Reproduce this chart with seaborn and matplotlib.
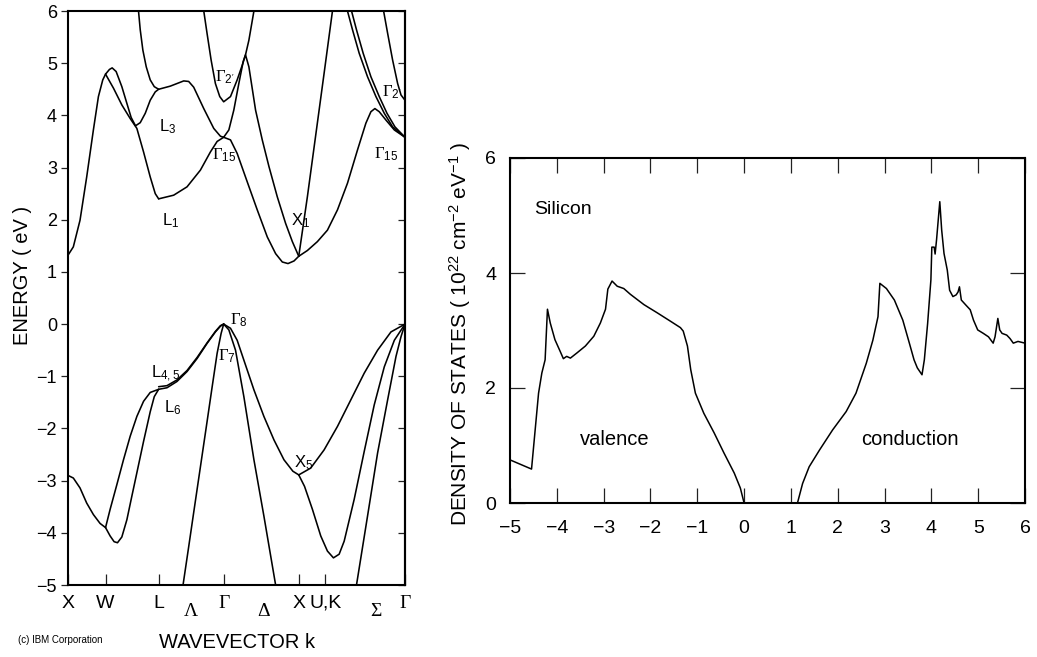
import numpy as np
import pandas as pd
import matplotlib
matplotlib.use("Agg")
import matplotlib.pyplot as plt
import seaborn as sns

# ---------------- data: band structure (k along X-W-L-G-X-U,K-G, E in eV) ----------------
k_ticks = [0.0, 0.5, 1.207, 2.073, 3.073, 3.427, 4.488]
k_labels = ["X", "W", "L", "Γ", "X", "U,K", "Γ"]
greek_pos = [1.63, 2.61, 4.10]
greek_labels = ["Λ", "Δ", "Σ"]

# conduction bands
cb_XW_k = [0.0, 0.071, 0.160, 0.249, 0.338, 0.405, 0.463, 0.500]
cb_XW_e = [1.32, 1.48, 1.99, 2.82, 3.72, 4.36, 4.68, 4.79]
cb_WL1_k = [0.500, 0.606, 0.717, 0.828, 0.917, 1.006, 1.095, 1.162, 1.207]
cb_WL1_e = [4.79, 4.52, 4.20, 3.94, 3.75, 3.30, 2.82, 2.50, 2.40]
cb_WL3_k = [0.500, 0.552, 0.588, 0.641, 0.717, 0.784, 0.841, 0.899, 0.962, 1.029, 1.095, 1.162, 1.207]
cb_WL3_e = [4.79, 4.88, 4.91, 4.84, 4.55, 4.23, 3.96, 3.80, 3.86, 4.04, 4.29, 4.45, 4.50]
cb_topL_k = [0.939, 0.962, 0.997, 1.042, 1.095, 1.149, 1.207]
cb_topL_e = [6.0, 5.64, 5.25, 4.93, 4.68, 4.55, 4.50]
cb_LG3_k = [1.207, 1.362, 1.541, 1.607, 1.674, 1.808, 1.941, 2.030, 2.073]
cb_LG3_e = [4.50, 4.56, 4.66, 4.65, 4.54, 4.13, 3.75, 3.60, 3.58]
cb_LG1_k = [1.207, 1.407, 1.585, 1.763, 1.897, 1.986, 2.073]
cb_LG1_e = [2.40, 2.47, 2.63, 2.95, 3.30, 3.50, 3.58]
cb_G2_k = [1.808, 1.852, 1.906, 1.963, 2.021, 2.073, 2.164, 2.253, 2.320, 2.364, 2.409, 2.476]
cb_G2_e = [6.0, 5.57, 5.06, 4.61, 4.36, 4.26, 4.36, 4.68, 4.96, 5.16, 5.44, 6.0]
cb_GXu_k = [2.073, 2.142, 2.208, 2.275, 2.333, 2.364, 2.409, 2.498, 2.587, 2.676, 2.787, 2.898, 2.988, 3.073]
cb_GXu_e = [3.58, 3.72, 4.10, 4.61, 5.03, 5.16, 4.93, 4.10, 3.53, 3.02, 2.44, 1.93, 1.58, 1.30]
cb_GXl_k = [2.073, 2.164, 2.253, 2.386, 2.520, 2.654, 2.765, 2.854, 2.930, 3.010, 3.073]
cb_GXl_e = [3.58, 3.53, 3.27, 2.73, 2.19, 1.67, 1.35, 1.19, 1.16, 1.21, 1.30]
cb_XUs_k = [3.073, 3.188, 3.299, 3.411, 3.522]
cb_XUs_e = [1.30, 2.44, 3.62, 4.81, 6.0]
cb_XG_k = [3.073, 3.188, 3.321, 3.455, 3.589, 3.722, 3.856, 3.967, 4.034, 4.087, 4.145, 4.234, 4.346, 4.488]
cb_XG_e = [1.30, 1.41, 1.58, 1.80, 2.19, 2.70, 3.34, 3.85, 4.07, 4.13, 4.07, 3.91, 3.72, 3.58]
cb_KGa_k = [3.722, 3.789, 3.878, 3.989, 4.101, 4.212, 4.323, 4.488]
cb_KGa_e = [6.0, 5.64, 5.19, 4.74, 4.36, 4.04, 3.78, 3.58]
cb_KGb_k = [3.776, 3.842, 3.931, 4.034, 4.145, 4.248, 4.354, 4.488]
cb_KGb_e = [6.0, 5.64, 5.19, 4.74, 4.36, 4.04, 3.78, 3.58]
cb_G2R_k = [4.203, 4.257, 4.323, 4.390, 4.435, 4.488]
cb_G2R_e = [6.0, 5.57, 5.06, 4.61, 4.39, 4.29]

# valence bands
vb_XW_k = [0.0, 0.071, 0.160, 0.249, 0.338, 0.427, 0.500]
vb_XW_e = [-2.90, -2.95, -3.14, -3.43, -3.65, -3.82, -3.90]
vb_WLa_k = [0.500, 0.561, 0.650, 0.739, 0.828, 0.917, 1.006, 1.095, 1.207]
vb_WLa_e = [-3.90, -3.55, -3.08, -2.60, -2.15, -1.77, -1.48, -1.31, -1.25]
vb_WLb_k = [0.500, 0.561, 0.614, 0.659, 0.717, 0.784, 0.850, 0.917, 1.006, 1.095, 1.149, 1.207]
vb_WLb_e = [-3.90, -4.06, -4.17, -4.19, -4.08, -3.75, -3.30, -2.85, -2.25, -1.68, -1.39, -1.25]
vb_LG_k = [1.207, 1.318, 1.451, 1.585, 1.719, 1.852, 1.963, 2.030, 2.073]
vb_LG6_e = [-1.25, -1.22, -1.10, -0.91, -0.66, -0.37, -0.15, -0.04, 0.0]
vb_LG45_e = [-1.20, -1.18, -1.07, -0.89, -0.64, -0.36, -0.14, -0.03, 0.0]
vb_GLs_k = [2.073, 2.039, 1.986, 1.919, 1.852, 1.763, 1.674, 1.607, 1.532]
vb_GLs_e = [0.0, -0.18, -0.56, -1.21, -1.87, -2.74, -3.61, -4.27, -5.0]
vb_GX_k = [2.073, 2.164, 2.253, 2.342, 2.476, 2.609, 2.743, 2.876, 2.995, 3.073]
vb_GX_e = [0.0, -0.08, -0.31, -0.69, -1.26, -1.77, -2.22, -2.60, -2.82, -2.89]
vb_GXs_k = [2.073, 2.142, 2.231, 2.342, 2.476, 2.609, 2.765]
vb_GXs_e = [0.0, -0.11, -0.50, -1.39, -2.60, -3.68, -5.0]
vb_XGu_k = [3.073, 3.232, 3.411, 3.589, 3.767, 3.945, 4.123, 4.301, 4.488]
vb_XGu_e = [-2.89, -2.76, -2.41, -1.96, -1.45, -0.94, -0.50, -0.15, 0.0]
vb_XGl_k = [3.073, 3.150, 3.255, 3.366, 3.455, 3.535, 3.611, 3.678, 3.811, 3.945, 4.078, 4.212, 4.346, 4.488]
vb_XGl_e = [-2.89, -3.11, -3.55, -4.06, -4.35, -4.48, -4.41, -4.16, -3.36, -2.44, -1.55, -0.82, -0.31, 0.0]
vb_KGs_k = [3.842, 3.989, 4.123, 4.257, 4.368, 4.435, 4.488]
vb_KGs_e = [-5.0, -3.68, -2.47, -1.45, -0.62, -0.24, 0.0]

# point labels (text, k, E)
pt_text = ["L$_3$", "L$_1$", "Γ$_{2'}$", "Γ$_{15}$", "X$_1$", "Γ$_{2'}$", "Γ$_{15}$",
           "Γ$_8$", "Γ$_7$", "L$_{4,5}$", "L$_6$", "X$_5$"]
pt_k = [1.326, 1.362, 2.084, 2.075, 3.099, 4.310, 4.243, 2.280, 2.114, 1.296, 1.393, 3.135]
pt_e = [3.79, 1.99, 4.73, 3.24, 1.99, 4.45, 3.26, 0.08, -0.61, -0.96, -1.60, -2.65]

# ---------------- data: density of states ----------------
dos_val_E = [-5.0, -4.54, -4.39, -4.32, -4.25, -4.20, -4.14, -4.04, -3.93, -3.86, -3.79, -3.71,
             -3.57, -3.39, -3.21, -3.07, -2.96, -2.91, -2.82, -2.71, -2.57, -2.43, -2.14, -1.86,
             -1.57, -1.36, -1.30, -1.21, -1.14, -1.04, -0.86, -0.64, -0.43, -0.21, -0.08, 0.0]
dos_val_D = [0.75, 0.59, 1.91, 2.26, 2.49, 3.37, 3.13, 2.84, 2.64, 2.51, 2.55, 2.52,
             2.61, 2.73, 2.90, 3.13, 3.37, 3.72, 3.86, 3.77, 3.73, 3.63, 3.45, 3.31,
             3.16, 3.05, 2.99, 2.73, 2.32, 1.91, 1.56, 1.22, 0.87, 0.52, 0.26, 0.0]
dos_con_E = [1.14, 1.25, 1.39, 1.61, 1.89, 2.18, 2.39, 2.61, 2.75, 2.86, 2.90, 3.04, 3.21, 3.39,
             3.53, 3.63, 3.70, 3.80, 3.85, 3.92, 3.99, 4.01, 4.06, 4.08, 4.11, 4.18, 4.22, 4.27,
             4.34, 4.39, 4.46, 4.53, 4.57, 4.60, 4.64, 4.74, 4.83, 4.90, 4.99, 5.11, 5.22, 5.32,
             5.36, 5.42, 5.46, 5.51, 5.61, 5.68, 5.75, 5.85, 6.0]
dos_con_D = [0.0, 0.34, 0.63, 0.92, 1.27, 1.59, 1.91, 2.43, 2.83, 3.24, 3.82, 3.73, 3.53, 3.18,
             2.78, 2.49, 2.35, 2.23, 2.49, 3.12, 3.88, 4.45, 4.45, 4.33, 4.57, 5.24, 4.75, 4.34,
             4.05, 3.70, 3.59, 3.62, 3.67, 3.76, 3.53, 3.44, 3.36, 3.18, 3.01, 2.95, 2.89, 2.78,
             2.89, 3.21, 3.01, 2.95, 2.92, 2.86, 2.78, 2.81, 2.78]

# ---------------- build tables ----------------
band_curves = [
    ("cb_XW", cb_XW_k, cb_XW_e), ("cb_WL1", cb_WL1_k, cb_WL1_e), ("cb_WL3", cb_WL3_k, cb_WL3_e),
    ("cb_topL", cb_topL_k, cb_topL_e), ("cb_LG3", cb_LG3_k, cb_LG3_e), ("cb_LG1", cb_LG1_k, cb_LG1_e),
    ("cb_G2", cb_G2_k, cb_G2_e), ("cb_GXu", cb_GXu_k, cb_GXu_e), ("cb_GXl", cb_GXl_k, cb_GXl_e),
    ("cb_XUs", cb_XUs_k, cb_XUs_e), ("cb_XG", cb_XG_k, cb_XG_e), ("cb_KGa", cb_KGa_k, cb_KGa_e),
    ("cb_KGb", cb_KGb_k, cb_KGb_e), ("cb_G2R", cb_G2R_k, cb_G2R_e),
    ("vb_XW", vb_XW_k, vb_XW_e), ("vb_WLa", vb_WLa_k, vb_WLa_e), ("vb_WLb", vb_WLb_k, vb_WLb_e),
    ("vb_LG6", vb_LG_k, vb_LG6_e), ("vb_LG45", vb_LG_k, vb_LG45_e), ("vb_GLs", vb_GLs_k, vb_GLs_e),
    ("vb_GX", vb_GX_k, vb_GX_e), ("vb_GXs", vb_GXs_k, vb_GXs_e), ("vb_XGu", vb_XGu_k, vb_XGu_e),
    ("vb_XGl", vb_XGl_k, vb_XGl_e), ("vb_KGs", vb_KGs_k, vb_KGs_e),
]
band_df = pd.concat(
    [pd.DataFrame({"curve": name, "k": ks, "E": es, "order": range(len(ks))}) for name, ks, es in band_curves],
    ignore_index=True)
dos_df = pd.concat([
    pd.DataFrame({"part": "valence", "E": dos_val_E, "D": dos_val_D}),
    pd.DataFrame({"part": "conduction", "E": dos_con_E, "D": dos_con_D}),
], ignore_index=True)

# ---------------- style ----------------
sns.set_theme(style="white")
plt.rcParams["font.family"] = ["Liberation Sans", "DejaVu Sans"]
plt.rcParams["mathtext.fontset"] = "custom"
plt.rcParams["mathtext.rm"] = "Liberation Sans"
plt.rcParams["mathtext.it"] = "Liberation Sans"
plt.rcParams["mathtext.bf"] = "Liberation Sans:bold"
plt.rcParams["mathtext.default"] = "rm"
plt.rcParams["axes.edgecolor"] = "black"
plt.rcParams["xtick.color"] = "#222222"
plt.rcParams["ytick.color"] = "#222222"
plt.rcParams["text.color"] = "black"
plt.rcParams["xtick.labelcolor"] = "black"
plt.rcParams["ytick.labelcolor"] = "black"

W, H = 1037, 657
fig = plt.figure(figsize=(W / 100, H / 100), dpi=100)
fig.patch.set_facecolor("white")

def px_axes(x0, y0, x1, y1):
    return fig.add_axes([x0 / W, 1 - y1 / H, (x1 - x0) / W, (y1 - y0) / H])

# ---------------- band structure panel ----------------
ax1 = px_axes(68, 11, 405, 585)
sns.lineplot(data=band_df, x="k", y="E", units="curve", estimator=None, sort=False,
             color="black", linewidth=1.15, ax=ax1, legend=False)
ax1.set_xlim(0, 4.488)
ax1.set_ylim(-5, 6)
ax1.set_xlabel("")
ax1.set_ylabel("")
ax1.set_xticks(k_ticks)
ax1.set_xticklabels(k_labels)
ax1.set_yticks(range(-5, 7))
ax1.tick_params(axis="x", direction="in", length=8, width=0.9, pad=7, labelsize=14,
                top=False, bottom=True)
ax1.tick_params(axis="y", direction="out", length=5, width=0.9, pad=3, labelsize=13,
                left=True, right=False)
for lab in ax1.get_xticklabels():
    if lab.get_text() == "Γ":
        lab.set_fontfamily(["Liberation Serif", "DejaVu Serif"])
for sp in ax1.spines.values():
    sp.set_linewidth(1.5)
    sp.set_color("black")
sec = ax1.secondary_yaxis("right")
sec.set_yticks(range(-5, 7))
sec.tick_params(axis="y", direction="in", length=5, width=0.9, labelright=False)
sec.spines["right"].set_linewidth(1.5)

for g, kx in zip(greek_labels, greek_pos):
    ax1.text(kx, -0.031, g, transform=ax1.get_xaxis_transform(), ha="center", va="top",
             fontsize=14, family=["Liberation Serif", "DejaVu Serif"])

for t, kx, ey in zip(pt_text, pt_k, pt_e):
    fam = ["Liberation Serif", "DejaVu Serif"] if t.startswith("Γ") else ["Liberation Sans", "DejaVu Sans"]
    ax1.text(kx, ey, t, ha="center", va="center", fontsize=12, family=fam)

fig.text(23 / W, 1 - 275 / H, "ENERGY ( eV )", rotation=90, ha="center", va="center", fontsize=14.5)
fig.text(237 / W, 1 - 643 / H, "WAVEVECTOR k", ha="center", va="center", fontsize=14.5)
fig.text(18 / W, 1 - 640 / H, "(c) IBM Corporation", ha="left", va="center", fontsize=7)

# ---------------- density of states panel ----------------
ax2 = px_axes(510, 158, 1025, 503)
sns.lineplot(data=dos_df, x="E", y="D", units="part", estimator=None, sort=False,
             color="black", linewidth=1.1, ax=ax2, legend=False)
ax2.set_xlim(-5, 6)
ax2.set_ylim(0, 6)
ax2.set_xlabel("")
ax2.set_ylabel("")
ax2.set_xticks(range(-5, 7))
ax2.set_yticks([0, 2, 4, 6])
ax2.tick_params(axis="x", direction="in", length=11, width=0.9, pad=12, labelsize=14,
                top=True, bottom=True)
ax2.tick_params(axis="y", direction="in", length=11, width=0.9, pad=10, labelsize=14,
                left=True, right=True)
for sp in ax2.spines.values():
    sp.set_linewidth(1.5)
    sp.set_color("black")
ax2.text(-4.48, 5.10, "Silicon", ha="left", va="center", fontsize=14)
ax2.text(-2.76, 1.10, "valence", ha="center", va="center", fontsize=14.5)
ax2.text(3.55, 1.10, "conduction", ha="center", va="center", fontsize=14.5)
fig.text(460 / W, 1 - 334 / H,
         "DENSITY OF STATES ( 10$^{22}$ cm$^{-2}$ eV$^{-1}$ )",
         rotation=90, ha="center", va="center", fontsize=15)

fig.savefig("out.png", dpi=100, facecolor="white")
